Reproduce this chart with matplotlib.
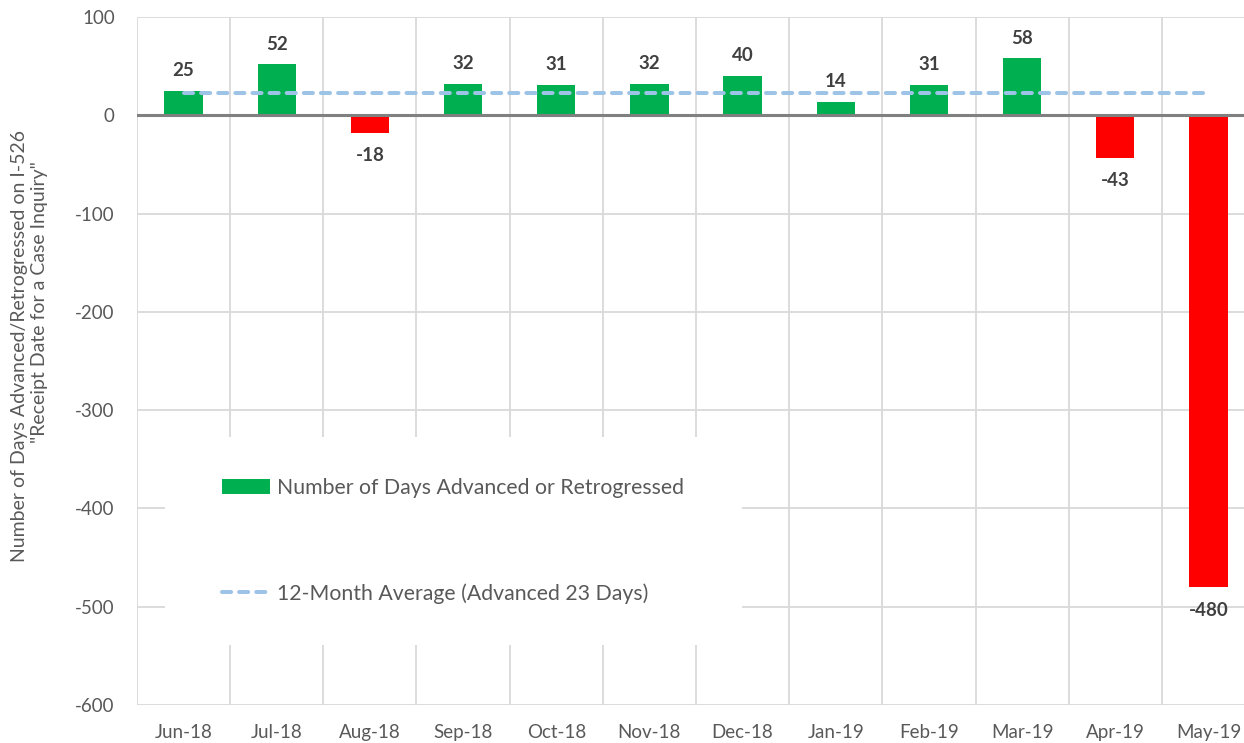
import matplotlib
matplotlib.use("Agg")
import matplotlib.pyplot as plt
from matplotlib.patches import Patch, Rectangle
from matplotlib.lines import Line2D
import numpy as np

plt.rcParams['font.family'] = ['Lato', 'DejaVu Sans']

months = ["Jun-18", "Jul-18", "Aug-18", "Sep-18", "Oct-18", "Nov-18",
          "Dec-18", "Jan-19", "Feb-19", "Mar-19", "Apr-19", "May-19"]
days = [25, 52, -18, 32, 31, 32, 40, 14, 31, 58, -43, -480]
average = 23
yticks = [100, 0, -100, -200, -300, -400, -500, -600]
bar_label = "Number of Days Advanced or Retrogressed"
avg_label = "12-Month Average (Advanced 23 Days)"
ylabel_lines = ["Number of Days Advanced/Retrogressed on I-526",
                "\"Receipt Date for a Case Inquiry\""]

GREEN = "#00B050"
RED = "#FF0000"
GRID = "#D9D9D9"
TXT = "#595959"
LBL = "#404040"
AVG = "#9DC3E6"

W, H = 1244, 743
fig = plt.figure(figsize=(W / 100, H / 100), dpi=100)
ax = fig.add_axes([137 / W, 1 - 705 / H, 1118 / W, (705 - 17) / H])

x = np.arange(len(months))
colors = [GREEN if v >= 0 else RED for v in days]
ax.bar(x, days, width=0.41, color=colors, zorder=3)

ax.set_xlim(-0.5, len(months) - 0.5)
ax.set_ylim(-600, 100)
ax.set_yticks(yticks)
ax.set_yticklabels([str(v) for v in yticks])
ax.set_xticks(x)
ax.set_xticklabels(months)

# gridlines
ax.set_xticks(np.arange(-0.5, len(months) + 0.5, 1), minor=True)
ax.grid(True, which="minor", axis="x", color=GRID, lw=1.3, zorder=0)
ax.grid(True, which="major", axis="y", color=GRID, lw=1.3, zorder=0)
ax.grid(False, which="major", axis="x")
for s in ax.spines.values():
    s.set_visible(False)
ax.tick_params(axis="both", which="both", length=0, colors=TXT, labelsize=13.5)
ax.tick_params(axis="x", pad=14)
ax.tick_params(axis="y", pad=16)

# zero line
ax.axhline(0, color="#808080", lw=2.2, zorder=4)

# average line
ax.plot([x[0], x[-1]], [average, average], color=AVG, lw=2.9,
        dashes=(2.25, 2.0), dash_capstyle="round", zorder=5)

# data labels
for xi, v in zip(x, days):
    off = 20 if v >= 0 else -23
    ax.annotate(str(v), (xi, v), xytext=(0, off), textcoords="offset pixels",
                ha="center", va="center", fontsize=13.5, fontweight="bold",
                color=LBL, zorder=6)

# legend background box
fig.patches.append(Rectangle((165 / W, 1 - 645 / H), (742 - 165) / W, (645 - 437) / H,
                             transform=fig.transFigure, facecolor="white",
                             edgecolor="none", zorder=1))
handles = [Patch(facecolor=GREEN, edgecolor="none"),
           Line2D([0], [0], color=AVG, lw=2.9, dashes=(2.25, 2.0),
                  dash_capstyle="round")]
leg = fig.legend(handles, [bar_label, avg_label], loc="center left",
                 bbox_to_anchor=(222 / W, 1 - 541 / H),
                 bbox_transform=fig.transFigure, frameon=False,
                 fontsize=15.3, handlelength=2.26, handleheight=0.7,
                 handletextpad=0.33, labelspacing=4.0, borderpad=0,
                 borderaxespad=0)
for t in leg.get_texts():
    t.set_color(TXT)

# y label (two lines)
fig.text(20 / W, 1 - 346 / H, ylabel_lines[0], rotation=90, ha="center",
         va="center", color=TXT, fontsize=14)
fig.text(40 / W, 1 - 302 / H, ylabel_lines[1], rotation=90, ha="center",
         va="center", color=TXT, fontsize=14)

fig.savefig("out.png", dpi=100, facecolor="white")
